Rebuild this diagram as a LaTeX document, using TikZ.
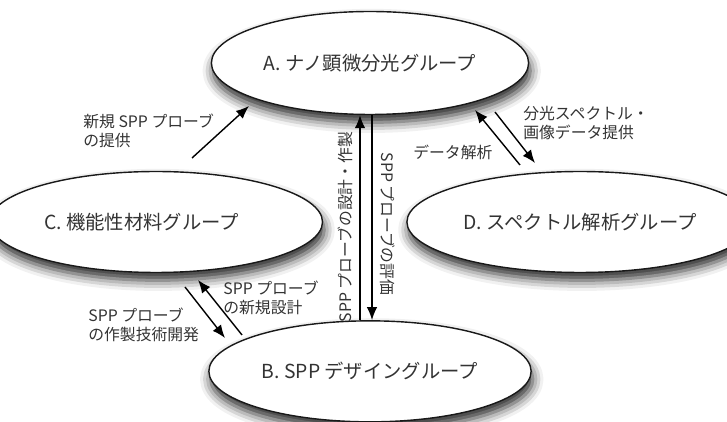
\documentclass[tikz,border=0pt]{standalone}
\usepackage{fontspec}
\setmainfont{Noto Sans CJK JP}
\usetikzlibrary{shapes.geometric, positioning, shadows.blur, arrows.meta}

\begin{document}
\begin{tikzpicture}[x=0.02cm, y=0.02cm]
\tikzstyle{main}=[ellipse, thick, draw=black!90, fill=white, text=black!80, minimum width=5.96cm, minimum height=2.02cm, font=\fontsize{11}{13}\selectfont, blur shadow={shadow xshift=1pt, shadow yshift=-4.5pt, shadow blur radius=6pt, shadow opacity=85}]
\tikzstyle{connect}=[-{Latex[length=2.6mm, width=2.1mm]}, thick]
\tikzstyle{note}=[align=left, inner sep=0pt, text=black!80, font=\fontsize{9}{11}\selectfont]
\useasboundingbox (0,0) rectangle (727,422);
    \node[main, minimum width=6cm, minimum height=2.06cm] (A) at (370,359) {A. ナノ顕微分光グループ};
    \node[main] (B) [below=4.1cm of A] {B. SPP デザイングループ};
    \node[main] (C) at (156,200) {C. 機能性材料グループ\hspace*{1.5em}};
    \node[main, minimum width=5.88cm] (D) at (580,200) {D. スペクトル解析グループ};
    % C -> A
    \coordinate (ca1) at (192,264);
    \coordinate (ca2) at (249,316);
    \draw[connect] (ca1) -- (ca2);
    \node[note, anchor=west] (newprobe) at (83,291) {新規 SPP プローブ\\の提供};
    % A <-> B
    \draw[connect] ([xshift=-0.2cm]B.north) -- ([xshift=-0.2cm]A.south);
    \draw[connect] ([xshift=0.04cm]A.south) -- ([xshift=0.04cm]B.north);
    \node[note, rotate=90] (design) at (345,195) {SPP プローブの設計・作製};
    \node[note, rotate=-90] (evaluate) at (388,198) {SPP プローブの評価};
    % A <-> D
    \coordinate (ad1) at (520,257);
    \coordinate (ad2) at (475,312);
    \coordinate (ad3) at (495,310);
    \coordinate (ad4) at (535,259);
    \draw[connect] (ad1) -- (ad2);
    \draw[connect] (ad3) -- (ad4);
    \node[note, anchor=west] (analysis) at (413,270) {データ解析};
    \node[note, anchor=west] (spectra) at (523,299) {分光スペクトル・\\画像データ提供};
    % C <-> B
    \coordinate (cb1) at (185,135);
    \coordinate (cb2) at (225,84);
    \coordinate (cb3) at (242,87);
    \coordinate (cb4) at (198,142);
    \draw[connect] (cb1) -- (cb2);
    \draw[connect] (cb3) -- (cb4);
    \node[note, anchor=west] (redesign) at (223,124) {SPP プローブ\\の新規設計};
    \node[note, anchor=west] (fabricate) at (88,97) {SPP プローブ\\の作製技術開発};
\end{tikzpicture}
\end{document}
